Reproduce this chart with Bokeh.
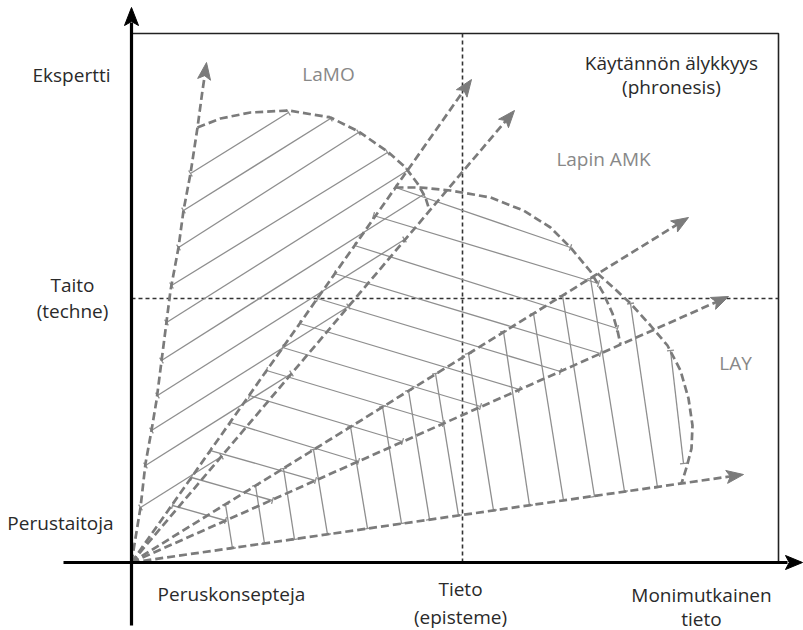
import numpy as np
from bokeh.plotting import figure
from bokeh.core.properties import value
from bokeh.embed import file_html
from bokeh.resources import INLINE

# ---------------- diagram data (units: origin at the axes crossing) ----------------
# straight dashed rays from the origin (arrow tips)
ray_x = [340, 383, 557, 597, 612]
ray_y = [483, 452, 345, 266, 88]

# curved left ray (LaMO left edge), last point = arrow tip
edge_x = [0, 9, 14, 20, 25, 32, 39, 47, 52, 59, 66, 71, 75]
edge_y = [0, 55, 99, 132, 162, 217, 272, 315, 352, 389, 435, 472, 500]

# dashed region boundaries
lamo_curve_x = [66, 89, 119, 157, 199, 227, 256, 274, 286, 294, 298]
lamo_curve_y = [435, 444, 450, 452, 445, 431, 411, 395, 379, 365, 352]
lapin_curve_x = [264, 289, 319, 359, 392, 419, 439, 459, 472, 481, 486, 489]
lapin_curve_y = [375, 375, 372, 365, 352, 335, 315, 291, 269, 249, 232, 218]
lay_curve_x = [466, 484, 499, 519, 536, 549, 557, 561, 560, 555, 550]
lay_curve_y = [289, 273, 259, 237, 217, 192, 164, 137, 114, 95, 79]

# hatch lines (start -> end)
lamo_x0 = [59, 52, 47, 40, 35, 30, 26, 20, 14, 9]
lamo_y0 = [389, 352, 315, 277, 240, 202, 167, 132, 97, 55]
lamo_x1 = [157, 199, 227, 256, 276, 292, 273, 217, 160, 90]
lamo_y1 = [450, 444, 430, 410, 392, 368, 323, 256, 189, 106]

lapin_x0 = [264, 242, 223, 203, 186, 168, 151, 135, 118, 99, 79, 60, 41]
lapin_y0 = [375, 347, 317, 289, 264, 239, 215, 192, 167, 140, 112, 85, 57]
lapin_x1 = [439, 467, 486, 469, 429, 388, 349, 312, 271, 227, 184, 141, 94]
lapin_y1 = [315, 279, 234, 209, 191, 173, 156, 139, 121, 101, 82, 62, 42]

lay_x0 = [94, 124, 152, 182, 219, 251, 277, 304, 337, 372, 402, 431, 459, 499, 539]
lay_y0 = [58, 77, 94, 113, 136, 156, 172, 189, 209, 231, 249, 267, 284, 259, 212]
lay_x1 = [101, 133, 163, 196, 236, 270, 298, 327, 362, 398, 432, 463, 493, 526, 552]
lay_y1 = [14, 19, 23, 28, 34, 39, 43, 47, 52, 57, 62, 66, 71, 75, 99]

# quadrant frame
box_right = 647
box_top = 529
mid_x = 331
mid_y = 264

# labels
dark_labels = ["Ekspertti", "Taito", "(techne)", "Perustaitoja", "Peruskonsepteja",
               "Tieto", "(episteme)", "Monimutkainen", "tieto",
               "Käytännön älykkyys", "(phronesis)"]
dark_lx = [-60, -59, -59, -71, 100, 329, 329, 570, 570, 540, 540]
dark_ly = [488, 278, 252, 40, -31, -26, -54, -32, -56, 500, 476]
gray_labels = ["LaMO", "Lapin AMK", "LAY"]
gray_lx = [197, 472, 604]
gray_ly = [489, 404, 200]

# ---------------- styles ----------------
DASH_GRAY = "#7b7b7b"
HATCH_GRAY = "#8e8e8e"
FONT = value("Open Sans")

p = figure(width=803, height=630, x_range=(-131, 672), y_range=(-68, 562),
           min_border=0, x_axis_location=None, y_axis_location=None,
           toolbar_location=None, output_backend="svg", background_fill_color="white")
p.grid.visible = False
p.outline_line_color = None

# quadrant frame and dividers
p.line([0, box_right, box_right], [box_top, box_top, 0], line_color="#222222", line_width=1.6)
p.line([mid_x, mid_x], [0, box_top], line_color="#333333", line_width=1.6, line_dash="4 3")
p.line([0, box_right], [mid_y, mid_y], line_color="#333333", line_width=1.6, line_dash="4 3")

# hatch lines with small end ticks
def hatch(x0, y0, x1, y1):
    x0, y0, x1, y1 = map(np.asarray, (x0, y0, x1, y1))
    p.segment(x0, y0, x1, y1, line_color=HATCH_GRAY, line_width=1.3)
    dx, dy = x1 - x0, y1 - y0
    ln = np.hypot(dx, dy)
    nx, ny = -dy / ln * 3.5, dx / ln * 3.5
    tx = np.concatenate([x0, x1])
    ty = np.concatenate([y0, y1])
    nnx = np.concatenate([nx, nx])
    nny = np.concatenate([ny, ny])
    p.segment(tx - nnx, ty - nny, tx + nnx, ty + nny, line_color=HATCH_GRAY, line_width=1.3)

hatch(lamo_x0, lamo_y0, lamo_x1, lamo_y1)
hatch(lapin_x0, lapin_y0, lapin_x1, lapin_y1)
hatch(lay_x0, lay_y0, lay_x1, lay_y1)

# dashed rays and curves
dash_kw = dict(line_color=DASH_GRAY, line_width=2.7, line_dash="8 4")
for tx, ty in zip(ray_x, ray_y):
    ln = np.hypot(tx, ty)
    p.line([0, tx - 8 * tx / ln], [0, ty - 8 * ty / ln], **dash_kw)
p.line(edge_x[:-1] + [edge_x[-1] - 1], edge_y[:-1] + [edge_y[-1] - 8], **dash_kw)
p.line(lamo_curve_x, lamo_curve_y, **dash_kw)
p.line(lapin_curve_x, lapin_curve_y, **dash_kw)
p.line(lay_curve_x, lay_curve_y, **dash_kw)

# arrow heads
def head(tx, ty, ux, uy, L=17, W=6.5):
    ln = np.hypot(ux, uy)
    ux, uy = ux / ln, uy / ln
    nx, ny = -uy, ux
    bx, by = tx - L * ux, ty - L * uy
    kx, ky = tx - 0.78 * L * ux, ty - 0.78 * L * uy
    return [tx, bx + W * nx, kx, bx - W * nx], [ty, by + W * ny, ky, by - W * ny]

hx, hy = [], []
for tx, ty in zip(ray_x, ray_y):
    a, b = head(tx, ty, tx, ty)
    hx.append(a); hy.append(b)
a, b = head(edge_x[-1], edge_y[-1], edge_x[-1] - edge_x[-2], edge_y[-1] - edge_y[-2])
hx.append(a); hy.append(b)
p.patches(hx, hy, fill_color=DASH_GRAY, line_color=DASH_GRAY, line_width=1)

# main axes
p.line([0, 0], [-63, 540], line_color="black", line_width=3.2)
p.line([-68, 656], [0, 0], line_color="black", line_width=3.2)
ax_x, ax_y = [], []
a, b = head(0, 555, 0, 1, L=18, W=7); ax_x.append(a); ax_y.append(b)
a, b = head(671, 0, 1, 0, L=17, W=7); ax_x.append(a); ax_y.append(b)
p.patches(ax_x, ax_y, fill_color="black", line_color="black", line_width=1)

# labels
p.text(x=dark_lx, y=dark_ly, text=dark_labels, text_align="center", text_baseline="middle",
       text_font=FONT, text_font_size="19px", text_color="#2a2a2a")
p.text(x=gray_lx, y=gray_ly, text=gray_labels, text_align="center", text_baseline="middle",
       text_font=FONT, text_font_size="19px", text_color="#888888")

open("out.html", "w").write(file_html(p, INLINE))
